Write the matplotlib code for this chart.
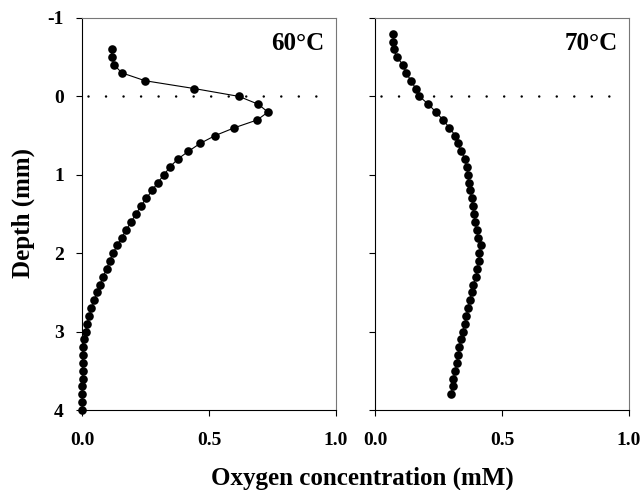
import matplotlib
matplotlib.use('Agg')
import matplotlib.pyplot as plt
import numpy as np

plt.rcParams['font.family'] = ['Liberation Serif', 'DejaVu Serif']
plt.rcParams['font.weight'] = 'bold'
plt.rcParams['axes.unicode_minus'] = False

# depth (mm), 0.1 mm steps
depth_60 = np.round(np.arange(-0.6, 4.05, 0.1), 1)
oxygen_60 = [0.117, 0.117, 0.127, 0.157, 0.248, 0.442, 0.618, 0.694, 0.732, 0.690,
             0.600, 0.524, 0.465, 0.419, 0.377, 0.346, 0.323, 0.298, 0.276, 0.253,
             0.231, 0.213, 0.193, 0.175, 0.156, 0.139, 0.122, 0.109, 0.097, 0.083,
             0.072, 0.059, 0.049, 0.037, 0.029, 0.020, 0.014, 0.008, 0.005, 0.004,
             0.003, 0.002, 0.002, 0.001, 0.001, 0.001, 0.001]

depth_70 = np.round(np.arange(-0.8, 3.85, 0.1), 1)
oxygen_70 = [0.072, 0.072, 0.075, 0.085, 0.112, 0.122, 0.142, 0.160, 0.175, 0.210,
             0.240, 0.268, 0.293, 0.316, 0.326, 0.340, 0.354, 0.361, 0.366, 0.369,
             0.375, 0.381, 0.385, 0.389, 0.394, 0.400, 0.406, 0.416, 0.411, 0.409,
             0.402, 0.398, 0.387, 0.381, 0.373, 0.366, 0.360, 0.353, 0.345, 0.337,
             0.332, 0.326, 0.322, 0.316, 0.308, 0.306, 0.299]

panels = [('60°C', oxygen_60, depth_60), ('70°C', oxygen_70, depth_70)]

fig = plt.figure(figsize=(6.43, 4.90), dpi=100)
ax_left = fig.add_axes([82 / 643, 1 - 410 / 490, 254 / 643, 392 / 490])
ax_right = fig.add_axes([375 / 643, 1 - 410 / 490, 254 / 643, 392 / 490])

for ax, (label, ox, dep) in zip([ax_left, ax_right], panels):
    ax.plot(ox, dep, color='black', lw=0.8, marker='o', markersize=6.2,
            markeredgewidth=0, clip_on=False)
    ax.plot([0.025, 0.98], [0, 0], color='black', lw=1.8,
            linestyle=(0, (0.01, 7)), dash_capstyle='round')
    ax.set_xlim(0, 1)
    ax.set_ylim(4, -1)
    ax.set_xticks([0.0, 0.5, 1.0])
    ax.set_xticklabels(['0.0', '0.5', '1.0'])
    ax.set_yticks([-1, 0, 1, 2, 3, 4])
    ax.tick_params(direction='out', length=4, width=0.8, labelsize=14)
    ax.tick_params(axis='x', pad=12)
    ax.tick_params(axis='y', pad=9)
    for side in ['top', 'right']:
        ax.spines[side].set_color('#777777')
        ax.spines[side].set_linewidth(0.8)
    for side in ['left', 'bottom']:
        ax.spines[side].set_linewidth(0.8)
    ax.text(0.955, 0.935, label, transform=ax.transAxes, ha='right', va='center',
            fontsize=18, fontweight='bold')

ax_right.set_yticklabels([])

fig.text(362 / 643, 1 - 485 / 490, 'Oxygen concentration (mM)', ha='center',
         va='baseline', fontsize=18, fontweight='bold')
fig.text(23 / 643, 1 - 213 / 490, 'Depth (mm)', ha='center', va='center',
         rotation=90, fontsize=18, fontweight='bold')

fig.savefig('out.png', dpi=100)
